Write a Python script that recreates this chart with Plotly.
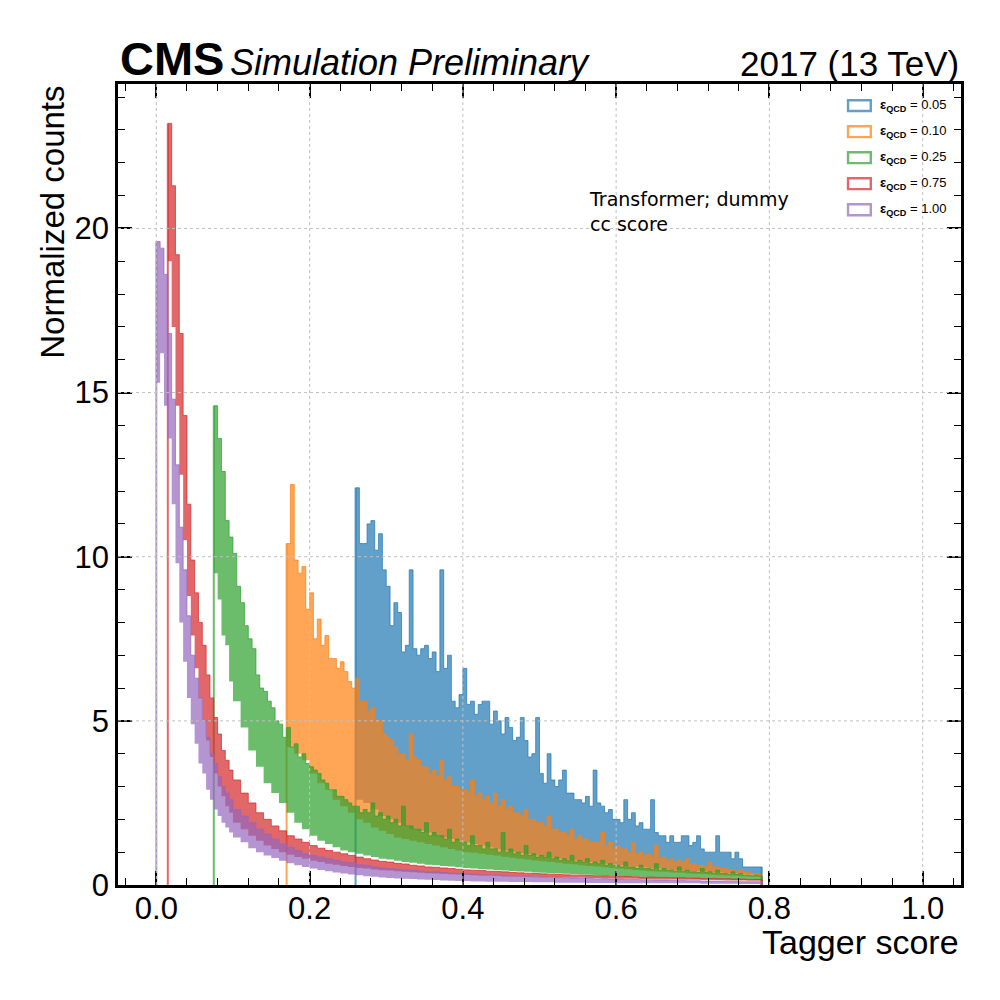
import numpy as np
import plotly.graph_objects as go

# bin edges: shared grid (0.005 wide below 0.1, 0.01 wide up to 0.79) and a fine 0.005 grid
edges = np.round(np.concatenate([np.arange(0, 0.1, 0.005), np.arange(0.10, 0.795, 0.01)]), 3)
edges_fine = np.round(np.arange(0, 0.7951, 0.005), 3)

labels = ['0.05', '0.10', '0.25', '0.75', '1.00']
colors = ['#1f77b4', '#ff7f0e', '#2ca02c', '#d62728', '#9467bd']

# eps_QCD = 0.05 : top of the noisy histogram (fine grid, from 0.26) and its lower edge (shared grid)
hi_005 = [12.1, 10.4, 10.4, 11.0, 11.1, 10.2, 10.7, 9.6, 9.1, 7.9,
          8.6, 8.3, 7.1, 7.3, 9.6, 7.2, 7.0, 7.2, 7.3, 6.9,
          7.1, 6.5, 9.6, 6.6, 7.0, 5.6, 5.4, 5.8, 6.6, 5.5,
          5.6, 5.2, 5.5, 5.6, 5.6, 4.9, 5.3, 5.0, 4.6, 5.1,
          4.8, 4.4, 4.5, 5.1, 4.4, 3.9, 4.0, 5.1, 3.4, 3.1,
          4.0, 3.2, 3.0, 3.2, 3.5, 2.8, 2.8, 2.6, 2.6, 2.5,
          2.7, 2.4, 3.5, 2.5, 2.4, 2.2, 2.3, 2.0, 2.0, 1.9,
          2.6, 2.0, 2.2, 1.8, 1.9, 1.7, 1.7, 2.6, 1.6, 1.5,
          1.5, 1.3, 1.5, 1.3, 1.3, 1.5, 1.5, 1.2, 1.3, 1.5,
          1.1, 1.0, 1.0, 1.0, 1.5, 1.0, 1.0, 1.0, 0.8, 1.0,
          0.8, 0.55, 0.55, 0.55, 0.55, 0.55]
lo_005 = [2.6, 2.5, 2.3, 2.1, 2.0, 1.9, 1.8, 1.7, 1.65, 1.6,
          1.5, 1.45, 1.4, 1.35, 1.3, 1.25, 1.2, 1.15, 1.1, 1.05,
          1.0, 0.97, 0.94, 0.9, 0.87, 0.84, 0.8, 0.78, 0.75, 0.72,
          0.7, 0.68, 0.65, 0.63, 0.6, 0.58, 0.56, 0.54, 0.52, 0.5,
          0.48, 0.46, 0.45, 0.43, 0.42, 0.4, 0.39, 0.38, 0.36, 0.35,
          0.34, 0.32, 0.3]

# eps_QCD = 0.10 (from 0.17)
hi_010 = [10.4, 12.2, 9.9, 9.5, 9.7, 8.4, 8.9, 7.5, 8.1, 7.3,
          7.6, 6.9, 6.9, 6.6, 6.8, 6.5, 6.2, 6.0, 6.3, 5.6,
          5.6, 5.3, 5.4, 5.0, 5.0, 4.6, 4.5, 4.4, 4.2, 4.0,
          4.0, 3.8, 4.6, 3.9, 3.8, 3.6, 3.6, 3.4, 3.5, 3.3,
          3.8, 3.2, 3.3, 3.0, 3.0, 2.9, 2.9, 2.8, 3.2, 2.7,
          2.8, 2.6, 2.7, 2.5, 2.8, 2.4, 2.6, 2.3, 2.4, 2.2,
          2.2, 2.1, 2.3, 2.0, 2.0, 1.9, 1.9, 1.8, 2.1, 1.7,
          1.7, 1.6, 1.6, 1.5, 1.7, 1.4, 1.5, 1.4, 1.4, 1.3,
          1.3, 1.3, 1.6, 1.2, 1.3, 1.1, 1.2, 1.1, 1.1, 1.0,
          1.3, 0.95, 1.0, 0.9, 0.95, 0.85, 1.2, 0.8, 0.85, 0.75,
          0.8, 0.7, 0.75, 0.7, 0.8, 0.65, 0.65, 0.6, 0.6, 0.55,
          0.7, 0.55, 0.55, 0.5, 0.5, 0.45, 0.45, 0.42, 0.45, 0.4,
          0.4, 0.35, 0.35, 0.32]
lo_010 = [4.2, 4.0, 3.8, 3.4, 3.1, 2.9, 2.6, 2.4, 2.2, 2.0,
          1.9, 1.75, 1.65, 1.55, 1.45, 1.4, 1.35, 1.3, 1.25, 1.2,
          1.15, 1.1, 1.05, 1.0, 0.98, 0.95, 0.92, 0.9, 0.86, 0.83,
          0.8, 0.78, 0.75, 0.72, 0.7, 0.68, 0.65, 0.63, 0.6, 0.58,
          0.56, 0.54, 0.52, 0.5, 0.48, 0.46, 0.44, 0.42, 0.41, 0.4,
          0.38, 0.37, 0.35, 0.34, 0.33, 0.31, 0.3, 0.29, 0.28, 0.27,
          0.26, 0.25]

# eps_QCD = 0.25 (from 0.075)
hi_025 = [14.6, 13.6, 12.6, 11.1, 10.6,
          10.1, 9.1, 8.6, 7.9, 7.5, 7.2, 6.4, 6.0, 5.9, 5.6,
          5.4, 5.0, 4.9, 4.5, 4.8, 4.2, 4.3, 3.9, 4.0, 3.7,
          3.6, 3.5, 3.4, 3.2, 3.1, 2.9, 2.9, 2.7, 2.7, 2.6,
          2.5, 2.4, 2.4, 2.2, 2.3, 2.2, 2.5, 2.1, 2.2, 2.0,
          2.1, 1.9, 2.0, 1.8, 2.4, 1.8, 1.8, 1.7, 1.7, 1.6,
          1.9, 1.5, 1.6, 1.5, 1.5, 1.4, 1.7, 1.3, 1.4, 1.3,
          1.3, 1.2, 1.5, 1.2, 1.2, 1.1, 1.3, 1.1, 1.1, 1.0,
          1.6, 1.0, 1.1, 0.95, 1.0, 0.9, 1.2, 0.9, 0.95, 0.85,
          0.9, 0.85, 1.0, 0.8, 0.85, 0.75, 0.8, 0.75, 0.9, 0.7,
          0.75, 0.7, 0.8, 0.65, 0.7, 0.65, 0.75, 0.6, 0.65, 0.6,
          0.6, 0.55, 0.7, 0.55, 0.55, 0.5, 0.6, 0.5, 0.5, 0.48,
          0.65, 0.45, 0.5, 0.45, 0.45, 0.42, 0.55, 0.42, 0.45, 0.4,
          0.4, 0.38, 0.5, 0.38, 0.4, 0.36, 0.45, 0.35, 0.35, 0.33,
          0.4, 0.32, 0.35, 0.3, 0.3, 0.28, 0.3, 0.28]
lo_025 = [9.5, 8.7, 7.6, 7.3, 6.2,
          5.6, 4.8, 4.1, 3.6, 3.1, 2.8, 2.5, 2.2, 1.9, 1.7,
          1.5, 1.35, 1.25, 1.15, 1.05, 1.0, 0.95, 0.9, 0.85, 0.8,
          0.78, 0.74, 0.7, 0.68, 0.65, 0.62, 0.6, 0.58, 0.56, 0.54,
          0.52, 0.5, 0.48, 0.47, 0.45, 0.44, 0.42, 0.41, 0.4, 0.38,
          0.37, 0.36, 0.35, 0.34, 0.33, 0.32, 0.31, 0.3, 0.29, 0.28,
          0.27, 0.26, 0.26, 0.25, 0.24, 0.23, 0.23, 0.22, 0.21, 0.21,
          0.2, 0.2, 0.19, 0.18, 0.18, 0.17, 0.17, 0.16, 0.15]

# eps_QCD = 0.75 (from 0.015, shared grid)
hi_075 = [23.2, 21.3, 19.2, 16.8, 14.3, 11.6, 9.9, 8.9, 8.0, 7.3,
          6.4, 5.7, 5.1, 4.6, 4.1, 3.8, 3.5,
          3.2, 2.8, 2.5, 2.2, 2.0, 1.8, 1.65, 1.5, 1.4, 1.3,
          1.2, 1.12, 1.05, 1.0, 0.95, 0.9, 0.85, 0.8, 0.76, 0.72,
          0.7, 0.66, 0.64, 0.6, 0.58, 0.55, 0.54, 0.52, 0.5, 0.48,
          0.46, 0.45, 0.44, 0.42, 0.41, 0.4, 0.38, 0.37, 0.36, 0.35,
          0.34, 0.33, 0.32, 0.31, 0.3, 0.3, 0.29, 0.28, 0.28, 0.27,
          0.26, 0.26, 0.25, 0.24, 0.24, 0.23, 0.23, 0.22, 0.22, 0.21,
          0.21, 0.2, 0.2, 0.19, 0.19, 0.18, 0.18, 0.17, 0.17]
lo_075 = [19.0, 17.0, 14.6, 12.5, 10.5, 8.8, 7.6, 6.6, 5.7, 5.0,
          4.4, 3.9, 3.4, 3.0, 2.7, 2.4, 2.2,
          1.9, 1.7, 1.5, 1.35, 1.2, 1.1, 1.0, 0.92, 0.85, 0.8,
          0.74, 0.7, 0.65, 0.62, 0.58, 0.55, 0.52, 0.5, 0.47, 0.45,
          0.44, 0.42, 0.4, 0.39, 0.37, 0.36, 0.35, 0.34, 0.33, 0.32,
          0.31, 0.3, 0.29, 0.29, 0.28, 0.27, 0.26, 0.26, 0.25, 0.25,
          0.24, 0.24, 0.23, 0.23, 0.22, 0.22, 0.21, 0.21, 0.2, 0.2,
          0.19, 0.19, 0.19, 0.18, 0.18, 0.17, 0.17, 0.17, 0.16, 0.16,
          0.16, 0.15, 0.15, 0.15, 0.14, 0.14, 0.14, 0.13, 0.13]

# eps_QCD = 1.00 (from 0.0, shared grid)
hi_100 = [19.6, 19.4, 18.6, 16.8, 14.8, 12.8, 10.9, 9.6, 8.2, 7.0,
          6.3, 5.7, 5.0, 4.5, 4.0, 3.7, 3.3, 3.0, 2.8, 2.6,
          2.3, 2.1, 1.9, 1.7, 1.55, 1.4, 1.25, 1.15, 1.05, 0.95,
          0.9, 0.85, 0.8, 0.75, 0.7, 0.68, 0.62, 0.6, 0.55, 0.52,
          0.5, 0.48, 0.46, 0.45, 0.42, 0.4, 0.4, 0.38, 0.36, 0.35,
          0.34, 0.33, 0.31, 0.3, 0.3, 0.28, 0.27, 0.27, 0.26, 0.25,
          0.24, 0.23, 0.23, 0.22, 0.21, 0.2, 0.2, 0.19, 0.19, 0.18,
          0.18, 0.17, 0.17, 0.16, 0.16, 0.15, 0.15, 0.14, 0.14, 0.13,
          0.13, 0.12, 0.12, 0.12, 0.11, 0.11, 0.1, 0.1, 0.1]
lo_100 = [15.3, 16.2, 14.6, 13.6, 11.6, 9.8, 8.0, 6.8, 5.7, 4.9,
          4.3, 3.7, 3.4, 2.9, 2.6, 2.3, 2.1, 1.9, 1.75, 1.6,
          1.45, 1.3, 1.12, 1.0, 0.9, 0.82, 0.74, 0.66, 0.6, 0.55,
          0.5, 0.46, 0.42, 0.38, 0.35, 0.32, 0.3, 0.27, 0.25, 0.23,
          0.21, 0.2, 0.19, 0.18, 0.17, 0.16, 0.15, 0.14, 0.13, 0.12,
          0.12, 0.11, 0.11, 0.1, 0.1, 0.1, 0.09, 0.09, 0.09, 0.08,
          0.08, 0.08, 0.07, 0.07, 0.07, 0.07, 0.06, 0.06, 0.06, 0.06,
          0.05, 0.05, 0.05, 0.05, 0.05, 0.05, 0.05, 0.05, 0.05, 0.05,
          0.05, 0.04, 0.04, 0.04, 0.04, 0.04, 0.03, 0.03, 0.03]

his = [hi_005, hi_010, hi_025, hi_075, hi_100]
los = [lo_005, lo_010, lo_025, lo_075, lo_100]
hi_grids = [edges_fine, edges_fine, edges_fine, edges, edges]
hi_first = [52, 34, 15, 3, 0]
lo_first = [36, 27, 15, 3, 0]


def rgba(hex_col, a):
    h = hex_col.lstrip('#')
    return 'rgba(%d,%d,%d,%.2f)' % (int(h[0:2], 16), int(h[2:4], 16), int(h[4:6], 16), a)


fig = go.Figure()

for hi, lo, col, grid, hs, ls in zip(his, los, colors, hi_grids, hi_first, lo_first):
    xh = grid[hs:hs + len(hi) + 1]
    xl = edges[ls:ls + len(lo) + 1]
    c = rgba(col, 0.7)
    # lower edge of the band, then the upper edge filled down to it
    fig.add_trace(go.Scatter(x=xl, y=lo + [lo[-1]], mode='lines',
                             line=dict(width=0, shape='hv', color=c),
                             hoverinfo='skip', showlegend=False))
    fig.add_trace(go.Scatter(x=xh, y=hi + [hi[-1]], mode='lines',
                             line=dict(width=1, shape='hv', color=c),
                             fill='tonexty', fillcolor=c, showlegend=False))
    # step edges down to zero at both ends
    fig.add_trace(go.Scatter(x=[xh[0], xh[0], None, xh[-1], xh[-1]],
                             y=[0, hi[0], None, 0, hi[-1]], mode='lines',
                             line=dict(width=2, color=c), showlegend=False))

# dotted grid drawn over the histograms
for v in [0, 0.2, 0.4, 0.6, 0.8, 1.0]:
    fig.add_shape(type='line', x0=v, x1=v, y0=0, y1=1, xref='x', yref='paper',
                  line=dict(color='#c0c0c0', width=1, dash='dot'), layer='above')
for v in [5, 10, 15, 20]:
    fig.add_shape(type='line', x0=0, x1=1, y0=v, y1=v, xref='paper', yref='y',
                  line=dict(color='#c0c0c0', width=1, dash='dot'), layer='above')

axis_common = dict(ticks='inside', ticklen=14, tickwidth=1.5, tickcolor='black',
                   showline=True, linewidth=2.5, linecolor='black', mirror='allticks',
                   showgrid=False, zeroline=False, layer='above traces',
                   tickfont=dict(size=31))
fig.update_xaxes(range=[-0.05, 1.05], tick0=0, dtick=0.2, tickformat='.1f',
                 ticklabelstandoff=-6,
                 minor=dict(ticks='inside', ticklen=7, tickwidth=1.2, tickcolor='black',
                            dtick=0.04, tick0=0, showgrid=False),
                 **axis_common)
fig.update_yaxes(range=[0, 24.4], tick0=0, dtick=5,
                 minor=dict(ticks='inside', ticklen=7, tickwidth=1.2, tickcolor='black',
                            dtick=1, tick0=0, showgrid=False),
                 **axis_common)

font = 'Liberation Sans, Arial, sans-serif'
ann = [
    dict(text='<b>CMS</b>', x=0.0, y=1.0, xref='paper', yref='paper', xanchor='left',
         yanchor='bottom', yshift=-3, font=dict(size=47, family=font)),
    dict(text='<i>Simulation Preliminary</i>', x=0.1305, y=1.0, xref='paper', yref='paper',
         xanchor='left', yanchor='bottom', yshift=-1, font=dict(size=36, family=font)),
    dict(text='2017 (13 TeV)', x=1.0, y=1.0, xref='paper', yref='paper', xanchor='right',
         yanchor='bottom', yshift=-1, font=dict(size=35, family=font)),
    dict(text='Tagger score', x=1.0, y=-0.045, xref='paper', yref='paper', xanchor='right',
         yanchor='top', font=dict(size=34, family=font)),
    dict(text='Normalized counts', x=-0.078, y=1.0, xref='paper', yref='paper', textangle=-90,
         xanchor='center', yanchor='top', font=dict(size=33, family=font)),
    dict(text='Transformer; dummy<br>cc score', x=0.562, y=21.3, xref='x', yref='y',
         xanchor='left', yanchor='top', align='left',
         font=dict(size=19, family='DejaVu Sans')),
]

# legend drawn by hand: open boxes with labels
for i, (lab, col) in enumerate(zip(labels, colors)):
    yc = 0.973 - i * 0.0325
    fig.add_shape(type='rect', xref='paper', yref='paper', x0=0.866, x1=0.893,
                  y0=yc - 0.0068, y1=yc + 0.0068,
                  line=dict(color=rgba(col, 0.7), width=2.4), fillcolor='rgba(0,0,0,0)')
    ann.append(dict(text='<b>ε<sub>QCD</sub></b> = ' + lab, x=0.9015, y=yc, xref='paper',
                    yref='paper', xanchor='left', yanchor='middle',
                    font=dict(size=13, family=font)))

for a in ann:
    a.setdefault('showarrow', False)
fig.update_layout(annotations=ann)

# the page body adds an 8 px offset, so margins are trimmed to keep the frame in place
fig.update_layout(width=1000, height=1000, margin=dict(l=110, r=47, t=76, b=123),
                  plot_bgcolor='white', paper_bgcolor='white', showlegend=False,
                  font=dict(family=font, size=31, color='black'))

fig.write_html('out.html')
